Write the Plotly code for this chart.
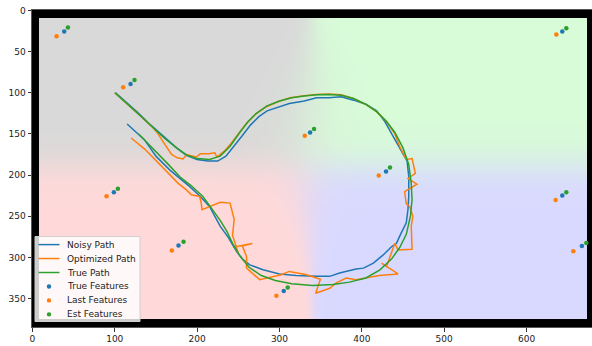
import numpy as np
import plotly.graph_objects as go

# ---------------- paths (map coordinates, y grows downward) ----------------
true_x = [100, 115, 130, 145, 160, 175, 188, 200, 215, 228, 240, 252, 262, 272, 285, 300,
          315, 330, 345, 360, 375, 390, 405, 418, 430, 440, 450, 457, 460, 461, 459, 454,
          446, 436, 422, 405, 385, 365, 340, 315, 295, 278, 263, 252, 243, 236, 228, 218,
          207, 193, 179, 165, 150, 140, 129]
true_y = [100, 113, 127, 141, 155, 167, 176, 180, 181, 177, 165, 148, 135, 125, 116, 110,
          106, 104, 102.5, 102, 103, 107, 114, 123, 135, 148, 167, 187, 210, 230, 250, 272,
          288, 302, 315, 325, 330, 333, 334, 332, 328, 322, 312, 298, 283, 268, 255, 241,
          226, 213, 202, 187, 172, 161, 150]

noisy_x = [101, 115, 128, 140, 152, 163, 175, 187, 200, 213, 225, 235, 245, 255, 265, 275,
           285, 298, 312, 330, 345, 360, 375, 390, 405, 418, 428, 438, 448, 455, 457, 457,
           456, 454, 447, 442, 436, 426, 414, 402, 393, 380, 373, 361, 345, 320, 300, 280,
           264, 255, 248, 238, 228, 215, 203, 191, 180, 167, 150, 136, 125, 115]
noisy_y = [100, 112, 124, 136, 147, 157, 167, 176, 181, 183, 183, 177, 165, 152, 139, 129,
           122, 118, 113, 110, 106, 106, 105, 109, 114, 122, 135, 153, 170, 183, 202, 226,
           242, 258, 272, 283, 287, 297, 307, 313, 314, 317, 319, 323, 323, 322, 320, 315,
           309, 302, 293, 276, 262, 238, 225, 214, 205, 194, 177, 157, 147, 138]

opt_x = [100, 115, 130, 145, 152, 159, 169, 176, 183, 187, 199, 204, 214, 221.5, 224, 233,
         241, 250, 260, 271, 284, 298, 313, 330, 345, 360, 375, 390, 405, 418, 430, 440,
         446, 454, 461, 465, 456, 467, 452, 454, 458, 462, 460, 461, 444, 440, 434, 430,
         424, 444, 421, 393, 381, 369, 361, 344, 349.7, 333, 312, 302, 276, 260, 260, 255,
         267, 246, 250, 243, 245, 240, 228, 206, 205, 203, 193, 187, 177, 157, 137, 120]
opt_y = [100, 113, 127, 141, 149, 160, 175, 179, 180.5, 175, 178, 174, 174, 173, 178, 171,
         162, 150, 137, 126, 117, 111, 106, 103.5, 102, 101.5, 102.5, 107, 114, 123, 135, 150,
         165, 181, 180, 198, 204, 211, 220, 235, 238, 250, 262, 290, 291, 283, 299, 311,
         307, 320, 322, 327, 325, 331, 337.5, 343.6, 326.5, 321, 317, 321, 327, 313, 299, 286,
         283, 287, 295, 273, 254, 234, 233, 242, 234, 226, 224, 218, 210, 190, 169, 155]

# ---------------- landmarks ----------------
true_fx = [38.6, 119.2, 643.4, 337.2, 429.4, 98.9, 177.4, 305.2, 643.4, 667.2]
true_fy = [25.7, 89.3, 25.7, 148.2, 195.6, 220.7, 285.6, 340.8, 224.8, 286.0]
last_fx = [29.3, 110.2, 636.2, 330.7, 420.5, 90.0, 169.3, 296.3, 635.3, 656.8]
last_fy = [31.4, 93.4, 29.3, 152.2, 200.5, 225.6, 291.7, 346.5, 230.4, 292.5]
est_fx = [43.1, 124.0, 648.3, 342.0, 434.2, 103.8, 183.5, 310.0, 648.3, 672.6]
est_fy = [20.8, 84.4, 21.7, 144.1, 190.7, 216.7, 281.1, 336.4, 220.7, 282.4]

x_ticks = [0, 100, 200, 300, 400, 500, 600]
y_ticks = [0, 50, 100, 150, 200, 250, 300, 350]

# ---------------- background map: four soft regions with a black frame ----------------
H, W = 385, 680
yy, xx = np.mgrid[0:H, 0:W].astype(float)


def sig(t):
    return 1.0 / (1.0 + np.exp(-t))


soft_x = 2.5 + 16 * np.exp(-((yy - 150) / 120) ** 2)
mid_x = 340 - 10 * np.exp(-((yy - 200) / 90) ** 2)
wx = sig((xx - mid_x) / soft_x)[..., None]
wy = sig((yy - 188) / 12)[..., None]
c_gray = np.array([217, 217, 217], float)
c_green = np.array([216, 251, 216], float)
c_pink = np.array([255, 217, 217], float)
c_blue = np.array([217, 217, 255], float)
img = ((1 - wx) * (1 - wy) * c_gray + wx * (1 - wy) * c_green
       + (1 - wx) * wy * c_pink + wx * wy * c_blue)
img[:10, :] = 0
img[375:, :] = 0
img[:, :8] = 0
img[:, 674:] = 0
img = np.clip(np.round(img), 0, 255).astype(np.uint8)

BLUE, ORANGE, GREEN = "#1f77b4", "#ff7f0e", "#2ca02c"
FONT = "DejaVu Sans"

fig = go.Figure()
fig.add_trace(go.Image(z=img, x0=0, y0=0, dx=1, dy=1, hoverinfo="skip"))

for name, xs, ys, col in [("Noisy Path", noisy_x, noisy_y, BLUE),
                          ("Optimized Path", opt_x, opt_y, ORANGE),
                          ("True Path", true_x, true_y, GREEN)]:
    fig.add_trace(go.Scatter(x=xs, y=ys, mode="lines", name=name, showlegend=False,
                             line=dict(color=col, width=1.5)))

for name, xs, ys, col in [("True Features", true_fx, true_fy, BLUE),
                          ("Last Features", last_fx, last_fy, ORANGE),
                          ("Est Features", est_fx, est_fy, GREEN)]:
    fig.add_trace(go.Scatter(x=xs, y=ys, mode="markers", name=name, showlegend=False,
                             marker=dict(color=col, size=4.5, line=dict(width=0))))

# ---------------- legend box (pixel layout inside the plot area) ----------------
L, T, PW, PH = 32, 10, 560, 317


def px(v):
    return (v - L) / PW


def py(v):
    return 1 - (v - T) / PH


shapes = [dict(type="rect", xref="paper", yref="paper", x0=px(35), x1=px(140),
               y0=py(321.5), y1=py(236.5), line=dict(color="#d0d0d0", width=1),
               fillcolor="rgba(255,255,255,0.8)", layer="above")]
annotations = []
entries = [("Noisy Path", BLUE, "line"), ("Optimized Path", ORANGE, "line"),
           ("True Path", GREEN, "line"), ("True Features", BLUE, "dot"),
           ("Last Features", ORANGE, "dot"), ("Est Features", GREEN, "dot")]
for i, (label, col, kind) in enumerate(entries):
    yc = 244.6 + 13.95 * i
    if kind == "line":
        shapes.append(dict(type="line", xref="paper", yref="paper", x0=px(38.5), x1=px(59.5),
                           y0=py(yc), y1=py(yc), line=dict(color=col, width=1.5),
                           layer="above"))
    else:
        shapes.append(dict(type="circle", xref="paper", yref="paper", xsizemode="pixel",
                           ysizemode="pixel", xanchor=px(49), yanchor=py(yc),
                           x0=-2.2, x1=2.2, y0=-2.2, y1=2.2, fillcolor=col,
                           line=dict(width=0), layer="above"))
    annotations.append(dict(xref="paper", yref="paper", x=px(64.5), y=py(yc), text=label,
                            showarrow=False, xanchor="left", yanchor="middle",
                            font=dict(family=FONT, size=9, color="#222")))

fig.update_layout(
    width=592, height=346,
    margin=dict(l=L, r=0, t=T, b=19),
    paper_bgcolor="white", plot_bgcolor="white",
    showlegend=False,
    shapes=shapes, annotations=annotations,
    font=dict(family=FONT, size=9, color="#222"),
)
fig.update_xaxes(range=[-0.5, 679.5], tickvals=x_ticks, ticks="outside", ticklen=3.5,
                 tickwidth=1, tickcolor="#333", showgrid=False, zeroline=False,
                 showline=True, linecolor="#555", linewidth=1, mirror=True,
                 tickfont=dict(family=FONT, size=9, color="#222"))
fig.update_yaxes(range=[384.5, -0.5], autorange=False, tickvals=y_ticks, ticks="outside",
                 ticklen=3.5, tickwidth=1, tickcolor="#333", showgrid=False, zeroline=False,
                 showline=True, linecolor="#555", linewidth=1, mirror=True,
                 scaleanchor=False, constrain="range",
                 tickfont=dict(family=FONT, size=9, color="#222"))

fig.write_html("out.html")
